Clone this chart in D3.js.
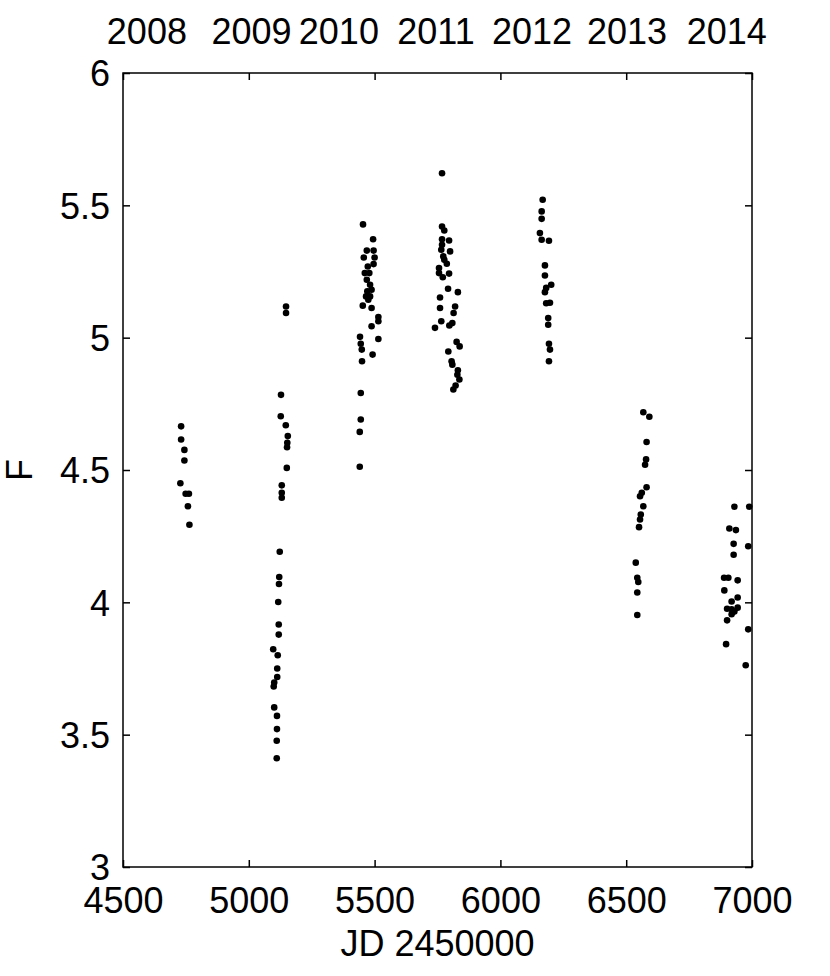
<!DOCTYPE html>
<html>
<head>
<meta charset="utf-8">
<script src="https://cdn.jsdelivr.net/npm/d3@7"></script>
<style>
  html, body { margin: 0; padding: 0; background: #fff; }
  svg { display: block; }
  text { font-family: "Liberation Sans", Arial, Helvetica, sans-serif; fill: #000; }
</style>
</head>
<body>
<svg id="chart" width="830" height="976"></svg>
<script>
// ---- data (JD - 2450000, F) ----
const jd2008 = [4731, 4731, 4744, 4744, 4728, 4749, 4762, 4758, 4764];
const f2008  = [4.665, 4.615, 4.576, 4.536, 4.45, 4.41, 4.41, 4.363, 4.293];

const jd2009 = [5148, 5148, 5128, 5127, 5147, 5155, 5153, 5152, 5151, 5131, 5131, 5131, 5123, 5121, 5120, 5117, 5119, 5119, 5097, 5115, 5113, 5113, 5101, 5099, 5101, 5112, 5112, 5111, 5111];
const f2009  = [5.118, 5.093, 4.784, 4.703, 4.669, 4.628, 4.603, 4.586, 4.508, 4.442, 4.414, 4.395, 4.191, 4.096, 4.069, 4.001, 3.916, 3.878, 3.823, 3.8, 3.75, 3.718, 3.697, 3.682, 3.603, 3.571, 3.521, 3.477, 3.411];

const jd2010 = [5454, 5494, 5469, 5496, 5457, 5500, 5496, 5473, 5461, 5479, 5469, 5482, 5471, 5488, 5466, 5482, 5475, 5453, 5488, 5515, 5515, 5488, 5442, 5515, 5445, 5449, 5492, 5450, 5445, 5445, 5441, 5441];
const f2010  = [5.428, 5.372, 5.329, 5.329, 5.303, 5.303, 5.278, 5.269, 5.244, 5.244, 5.219, 5.2, 5.175, 5.181, 5.156, 5.156, 5.143, 5.121, 5.112, 5.078, 5.062, 5.043, 5.003, 4.995, 4.977, 4.955, 4.936, 4.911, 4.791, 4.691, 4.644, 4.512];

const jd2011 = [5768, 5768, 5777, 5768, 5796, 5768, 5765, 5800, 5773, 5777, 5787, 5756, 5756, 5796, 5771, 5792, 5831, 5760, 5820, 5760, 5814, 5765, 5809, 5740, 5797, 5826, 5838, 5793, 5806, 5809, 5831, 5829, 5837, 5822, 5813];
const f2011  = [5.621, 5.42, 5.405, 5.372, 5.367, 5.351, 5.332, 5.326, 5.307, 5.294, 5.279, 5.263, 5.244, 5.242, 5.228, 5.185, 5.172, 5.152, 5.118, 5.112, 5.093, 5.062, 5.055, 5.037, 5.046, 4.984, 4.967, 4.948, 4.911, 4.898, 4.877, 4.86, 4.842, 4.819, 4.804];

const jd2012 = [6168, 6164, 6164, 6157, 6164, 6193, 6177, 6177, 6182, 6202, 6177, 6182, 6197, 6190, 6190, 6193, 6197, 6193];
const f2012  = [5.521, 5.477, 5.449, 5.395, 5.37, 5.366, 5.273, 5.235, 5.188, 5.2, 5.172, 5.13, 5.132, 5.074, 5.049, 4.977, 4.955, 4.911];

const jd2013 = [6568, 6592, 6581, 6579, 6575, 6581, 6562, 6555, 6568, 6558, 6555, 6551, 6538, 6544, 6548, 6544, 6544];
const f2013  = [4.718, 4.701, 4.606, 4.54, 4.52, 4.435, 4.414, 4.401, 4.363, 4.332, 4.313, 4.284, 4.15, 4.093, 4.077, 4.037, 3.952];

const jd2014 = [6930, 6989, 6910, 6936, 6927, 6985, 6927, 6889, 6906, 6943, 6890, 6943, 6919, 6901, 6919, 6943, 6930, 6919, 6901, 6985, 6897, 6975];
const f2014  = [4.361, 4.361, 4.279, 4.273, 4.221, 4.212, 4.18, 4.093, 4.093, 4.083, 4.045, 4.018, 4.003, 3.976, 3.974, 3.98, 3.965, 3.955, 3.932, 3.898, 3.842, 3.762];

const xTicks = [4500, 5000, 5500, 6000, 6500, 7000];
const yTicks = [3, 3.5, 4, 4.5, 5, 5.5, 6];
const yearLabels = ["2008", "2009", "2010", "2011", "2012", "2013", "2014"];
const yearPos = [4595, 5011, 5358, 5744, 6126, 6503, 6900];

(function () {
  // ---- layout ----
  const svg = d3.select("#chart");
  const mL = 123, mR = 752, mT = 73, mB = 867;
  const x = d3.scaleLinear().domain([4500, 7000]).range([mL, mR]);
  const y = d3.scaleLinear().domain([3, 6]).range([mB, mT]);

  const jdAll = [jd2008, jd2009, jd2010, jd2011, jd2012, jd2013, jd2014];
  const fAll = [f2008, f2009, f2010, f2011, f2012, f2013, f2014];
  const points = [];
  jdAll.forEach((arr, i) => arr.forEach((v, j) => points.push({ jd: v, f: fAll[i][j] })));

  const FS = 36;

  // frame
  svg.append("rect")
    .attr("x", mL).attr("y", mT)
    .attr("width", mR - mL).attr("height", mB - mT)
    .attr("fill", "none").attr("stroke", "#000").attr("stroke-width", 1.5);

  // inward ticks on all four sides
  function tickStyle(g) {
    g.select(".domain").remove();
    g.selectAll(".tick line").attr("stroke", "#000").attr("stroke-width", 1.5);
    g.selectAll(".tick text").remove();
  }
  svg.append("g").attr("transform", `translate(0,${mB})`)
    .call(d3.axisBottom(x).tickValues(xTicks).tickSize(-7)).call(tickStyle);
  svg.append("g").attr("transform", `translate(0,${mT})`)
    .call(d3.axisTop(x).tickValues(xTicks).tickSize(-7)).call(tickStyle);
  svg.append("g").attr("transform", `translate(${mL},0)`)
    .call(d3.axisLeft(y).tickValues(yTicks).tickSize(-7)).call(tickStyle);
  svg.append("g").attr("transform", `translate(${mR},0)`)
    .call(d3.axisRight(y).tickValues(yTicks).tickSize(-7)).call(tickStyle);

  // tick labels
  const xl = svg.append("g").attr("transform", `translate(0,${mB})`)
    .call(d3.axisBottom(x).tickValues(xTicks).tickSize(0).tickPadding(20).tickFormat(d3.format("d")));
  xl.select(".domain").remove();
  xl.selectAll("text").attr("font-size", FS).style("font-family", "'Liberation Sans', Arial, sans-serif").attr("fill", "#000");

  const yl = svg.append("g").attr("transform", `translate(${mL},0)`)
    .call(d3.axisLeft(y).tickValues(yTicks).tickSize(0).tickPadding(13).tickFormat(d => String(d)));
  yl.select(".domain").remove();
  yl.selectAll("text").attr("font-size", FS).attr("dy", "0.36em").style("font-family", "'Liberation Sans', Arial, sans-serif").attr("fill", "#000");

  // year labels on top
  svg.append("g").selectAll("text").data(yearLabels).join("text")
    .attr("x", (d, i) => x(yearPos[i]))
    .attr("y", 44)
    .attr("text-anchor", "middle")
    .attr("font-size", FS)
    .text(d => d);

  // axis titles
  svg.append("text")
    .attr("x", (mL + mR) / 2).attr("y", 956)
    .attr("text-anchor", "middle").attr("font-size", FS)
    .text("JD 2450000");
  svg.append("text")
    .attr("transform", `translate(32,${(mT + mB) / 2}) rotate(-90)`)
    .attr("text-anchor", "middle").attr("font-size", FS)
    .text("F");

  // points
  svg.append("g").selectAll("circle").data(points).join("circle")
    .attr("cx", d => x(d.jd))
    .attr("cy", d => y(d.f))
    .attr("r", 3.3)
    .attr("fill", "#000");
})();
</script>
</body>
</html>
